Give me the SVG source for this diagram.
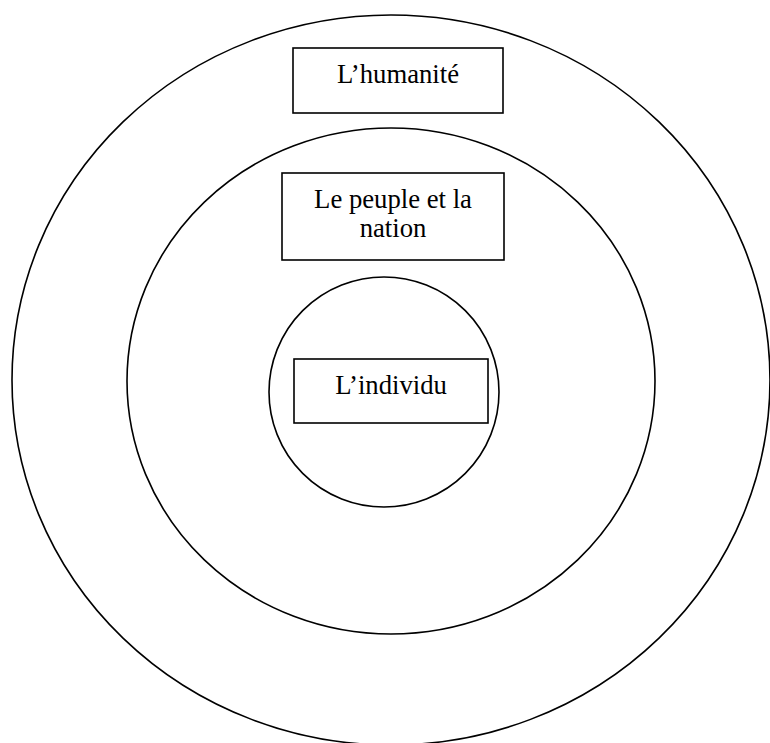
<svg xmlns="http://www.w3.org/2000/svg" width="770" height="743" viewBox="0 0 770 743">
  <style>
    .ring { fill: none; stroke: #000; stroke-width: 1.6; }
    .box { fill: #fff; stroke: #000; stroke-width: 1.6; }
    .lbl { font-family: "Liberation Serif", "Times New Roman", serif; font-size: 26.7px; fill: #000; text-anchor: middle; }
  </style>
  <rect width="770" height="743" fill="#fff"/>
  <g id="ring-humanite">
    <ellipse class="ring" cx="391" cy="380" rx="379" ry="365"/>
  </g>
  <g id="ring-peuple">
    <ellipse class="ring" cx="391" cy="381" rx="264" ry="253"/>
  </g>
  <g id="ring-individu">
    <ellipse class="ring" cx="384" cy="392" rx="115" ry="115"/>
  </g>
  <g id="connectors"></g>
  <g id="node-humanite">
    <rect class="box" x="293" y="48" width="210" height="65"/>
    <text class="lbl" x="398" y="83">L’humanité</text>
  </g>
  <g id="node-peuple">
    <rect class="box" x="282" y="173" width="222" height="87"/>
    <text class="lbl" x="393" y="208">Le peuple et la</text>
    <text class="lbl" x="393" y="237">nation</text>
  </g>
  <g id="node-individu">
    <rect class="box" x="294" y="359" width="194" height="64"/>
    <text class="lbl" x="391" y="394">L’individu</text>
  </g>
</svg>
